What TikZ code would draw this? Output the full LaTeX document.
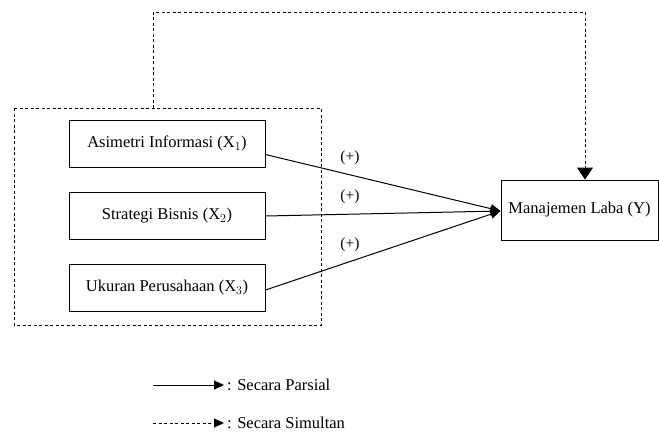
\documentclass[tikz,border=0pt]{standalone}
\usepackage{fontspec}
\setmainfont{Liberation Serif}
\usetikzlibrary{arrows.meta}
\begin{document}
\begin{tikzpicture}[x=1pt,y=-1pt,
  varbox/.style={draw,line width=0.9pt,minimum width=196pt,minimum height=47pt,inner sep=0pt,font=\fontsize{16.5}{19}\selectfont},
  ybox/.style={draw,line width=0.9pt,minimum width=157pt,minimum height=60pt,inner sep=0pt,font=\fontsize{16.5}{19}\selectfont},
  sline/.style={line width=1pt,-{Triangle[length=10pt,width=9pt]}},
  dline/.style={line width=1pt,dash pattern=on 3pt off 2.5pt},
  plus/.style={font=\fontsize{15.5}{18}\selectfont},
  legtext/.style={font=\fontsize{16.5}{19}\selectfont,anchor=west,inner sep=0pt}]
\useasboundingbox (0,0) rectangle (659,434);
\draw[dline] (14,108) rectangle (321,325);
\node[varbox] (x1) at (167,143.5) {Asimetri Informasi (X$_1$)};
\node[varbox] (x2) at (167,216) {Strategi Bisnis (X$_2$)};
\node[varbox] (x3) at (167,288) {Ukuran Perusahaan (X$_3$)};
\node[ybox] (y) at (579.5,210) {Manajemen Laba (Y)};
\coordinate (t) at (153,108);
\coordinate (yin) at (500.5,211);
\draw[sline] (x1.east) ++(0,11) -- (yin);
\draw[sline] (x2.east) -- (yin);
\draw[sline] (x3.east) ++(0,2) -- (yin);
\draw[dline] (t) -- (153,12) -- (585,12) -- (585,168);
\draw[-{Triangle[length=12pt,width=16pt]},line width=1pt] (585,166) -- (y.north -| 585,0);
\node[plus] (p1) at (350,158) {(+)};
\node[plus] (p2) at (350,197) {(+)};
\node[plus] (p3) at (350,245) {(+)};
\coordinate (l1a) at (153,385);
\coordinate (l1b) at (224,385);
\coordinate (l2a) at (153,423);
\coordinate (l2b) at (224,423);
\draw[sline] (l1a) -- (l1b);
\draw[dline] (l2a) -- (217,423);
\draw[-{Triangle[length=10pt,width=9pt]},line width=1pt] (216,423) -- (l2b);
\node[legtext] (lt1) at (227,385) {: Secara Parsial};
\node[legtext] (lt2) at (227,423) {: Secara Simultan};
\end{tikzpicture}
\end{document}
